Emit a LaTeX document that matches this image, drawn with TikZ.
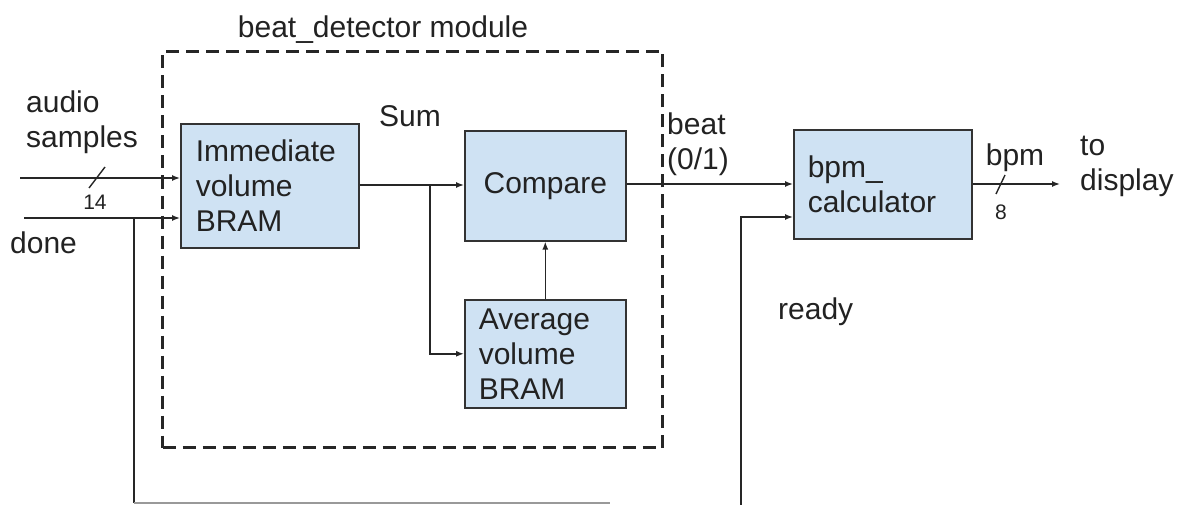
\documentclass[tikz,border=0pt]{standalone}
\usepackage{fontspec}
\setmainfont{Liberation Sans}
\usetikzlibrary{arrows.meta}
\definecolor{blockfill}{HTML}{CFE2F3}
\definecolor{blockline}{HTML}{333333}
\definecolor{textcol}{HTML}{222222}
\begin{document}
\begin{tikzpicture}[x=1pt,y=-1pt,
  txt/.style={font=\fontsize{30}{35}\selectfont, inner sep=0pt, text=textcol},
  small/.style={font=\fontsize{21}{23}\selectfont, inner sep=0pt, text=textcol},
  block/.style={draw=blockline, fill=blockfill, line width=1.6pt, anchor=north west,
    font=\fontsize{30}{35}\selectfont, inner sep=0pt, text=textcol},
  modbox/.style={draw=black!85, line width=3pt, dash pattern=on 13pt off 7pt, anchor=north west, inner sep=0pt},
  conn/.style={line width=1.4pt, draw=black!85},
  arr/.style={conn, -{Latex[length=8pt,width=6pt]}}]
\useasboundingbox (0,0) rectangle (1185,505);

% module boundary
\node[modbox, minimum width=500pt, minimum height=396pt] (mod) at (161,50) {};
\node[txt] (modlabel) at (383,30) {beat\_detector module};

% blocks
\node[block, minimum width=178pt, minimum height=124pt, text width=148pt, align=left] (imm) at (180,123)
  {Immediate\\volume\\BRAM};
\node[block, minimum width=161pt, minimum height=110pt, align=center] (cmp) at (464,130) {Compare};
\node[block, minimum width=161pt, minimum height=108pt, text width=133pt, align=left] (avg) at (464,299)
  {Average\\volume\\BRAM};
\node[block, minimum width=178pt, minimum height=109pt, text width=150pt, align=left] (bpm) at (793,129)
  {bpm\_\\calculator};

% labels
\node[txt, align=left, anchor=west] (audio) at (26,122) {audio\\samples};
\node[txt, anchor=west] (done) at (10,243) {done};
\node[small] (w14) at (95,202) {14};
\node[txt] (sum) at (410,116) {Sum};
\node[txt, align=left, anchor=west] (beat) at (667,144) {beat\\(0/1)};
\node[txt, anchor=west] (ready) at (778,312) {ready};
\node[txt] (bpmlab) at (1015,158) {bpm};
\node[small] (w8) at (1001,212) {8};
\node[txt, align=left, anchor=west] (disp) at (1080,166) {to\\display};

% coordinates for free ends
\coordinate (ain) at (20,178);
\coordinate (din) at (24,218);
\coordinate (dbr) at (134,218);
\coordinate (dbot) at (134,503);
\coordinate (dend) at (610,503);
\coordinate (rbot) at (741,505);
\coordinate (rtop) at (741,217);
\coordinate (sbr) at (430,185);
\coordinate (out) at (1060,184);

% connectors
\draw[arr] (ain) -- (ain -| imm.west);
\draw[conn] (89,188) -- (105,167);
\draw[arr] (din) -- (din -| imm.west);
\draw[conn] (dbr) -- (dbot);
\draw[line width=1.4pt, draw=black!40] (dbot) -- (dend);
\draw[arr] (imm.east |- sbr) -- (sbr -| cmp.west);
\draw[arr] (sbr) |- (avg.west);
\draw[arr] (avg.north) -- (cmp.south);
\draw[arr] (cmp.east |- out) -- (out -| bpm.west);
\draw[arr] (rbot) -- (rtop) -- (rtop -| bpm.west);
\draw[arr] (bpm.east |- out) -- (out);
\draw[conn] (996,194) -- (1005,175);
\end{tikzpicture}
\end{document}
